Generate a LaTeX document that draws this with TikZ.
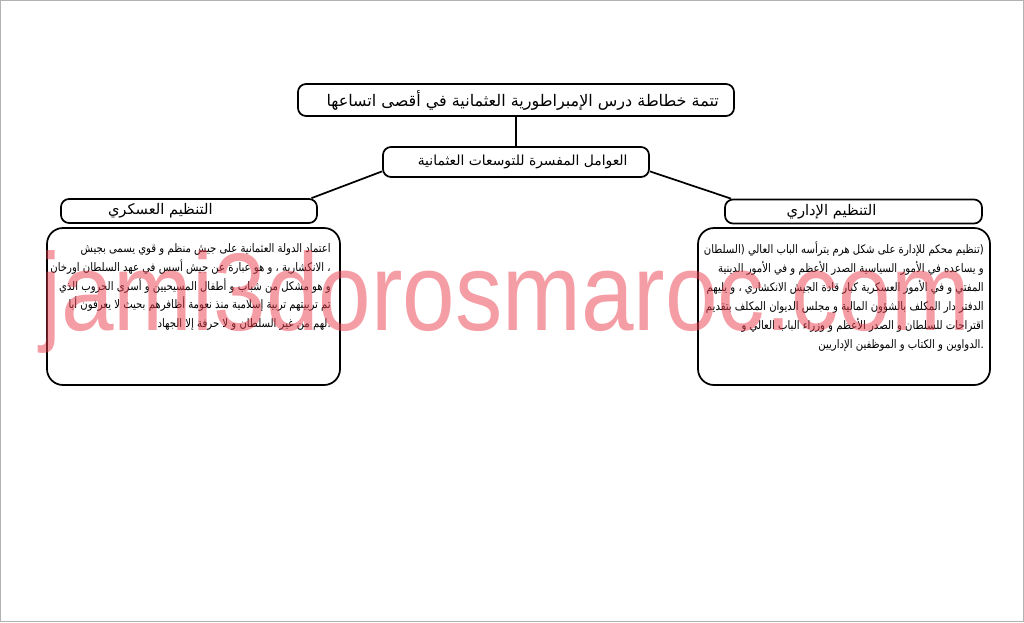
\documentclass[tikz,border=0pt]{standalone}
\usepackage{fontspec}
\usetikzlibrary{positioning}
\TeXXeTstate=1
\newfontfamily\arabicfont[Script=Arabic]{DejaVu Sans}
\newfontfamily\arabicbody[Script=Arabic,FakeStretch=0.86]{DejaVu Sans}
\newfontfamily\markfont{Liberation Sans}
\definecolor{markpink}{RGB}{235,60,75}
\tikzset{
    headbox/.style={draw=black, line width=1.3pt, rounded corners=6pt, inner sep=0pt, font=\arabicfont},
    bigbox/.style={draw=black, line width=1.3pt, rounded corners=12pt, inner sep=0pt},
    bodytext/.style={align=right, inner sep=0pt, font=\arabicbody\fontsize{8.8}{14.2}\selectfont},
    link/.style={draw=black, line width=1.3pt}
}
\begin{document}
\begin{tikzpicture}[x=0.75pt,y=-0.75pt]
	\useasboundingbox (0,0) rectangle (1024,622);
	\draw[gray!60, line width=0.8pt] (0.5,0.5) rectangle (1023.5,621.5);
	% boxes
	\node[headbox, minimum width=327pt, minimum height=24pt, font=\arabicfont\fontsize{12}{14}\selectfont] (title) at (516,100) {\kern10pt\hbox{\beginR تتمة خطاطة درس الإمبراطورية العثمانية في أقصى اتساعها\endR}};
	\node[headbox, minimum width=199.5pt, minimum height=22.5pt, font=\arabicfont\fontsize{10.4}{13}\selectfont] (mid) at (516,162) {\kern10pt\hbox{\beginR العوامل المفسرة للتوسعات العثمانية\endR}};
	\node[headbox, minimum width=192pt, minimum height=18pt, font=\arabicfont\fontsize{11}{13}\selectfont] (lhead) at (189,211) {\hbox{\beginR التنظيم العسكري\endR}\kern43pt};
	\node[headbox, minimum width=192.75pt, minimum height=18pt, font=\arabicfont\fontsize{11}{13}\selectfont] (rhead) at (853.5,211.5) {\hbox{\beginR التنظيم الإداري\endR}\kern33pt};
	\node[bigbox, minimum width=219.75pt, minimum height=117.75pt] (lbox) at (193.5,306.5) {};
	\node[bigbox, minimum width=219pt, minimum height=117.75pt] (rbox) at (844,306.5) {};
	% links
	\draw[link] (title.south) -- (mid.north);
	\draw[link] (mid.184) -- (lhead.6);
	\draw[link] (mid.-4) -- (rhead.174);
	% texts
	\node[bodytext, anchor=north east] (ltext) at (331,243) {%
		\beginR اعتماد الدولة العثمانية على جيش منظم و قوي يسمى بجيش\endR\\
		\beginR ، الانكشارية ، و هو عبارة عن جيش أسس في عهد السلطان اورخان\endR\\
		\beginR و هو مشكل من شباب و أطفال المسيحيين و أسرى الحروب الذي\endR\\
		\beginR تم تربيتهم تربية إسلامية منذ نعومة أظافرهم بحيث لا يعرفون أبا\endR\\
		\beginR .لهم من غير السلطان و لا حرفة إلا الجهاد\endR};
	\node[bodytext, anchor=north east] (rtext) at (984,242) {%
		\beginR (تنظيم محكم للإدارة على شكل هرم يترأسه الباب العالي (السلطان\endR\\
		\beginR و يساعده في الأمور السياسية الصدر الأعظم و في الأمور الدينية\endR\\
		\beginR المفتي و في الأمور العسكرية كبار قادة الجيش الانكشاري ، و يليهم\endR\\
		\beginR الدفتر دار المكلف بالشؤون المالية و مجلس الديوان المكلف بتقديم\endR\\
		\beginR اقتراحات للسلطان و الصدر الأعظم و وزراء الباب العالي و\endR\\
		\beginR .الدواوين و الكتاب و الموظفين الإداريين\endR};
	% watermark
	\node[anchor=base west, inner sep=0pt, text=markpink, text opacity=0.5] (mark) at (40,330) {\resizebox{697pt}{60pt}{\markfont jami3dorosmaroc.com}};
\end{tikzpicture}
\end{document}
